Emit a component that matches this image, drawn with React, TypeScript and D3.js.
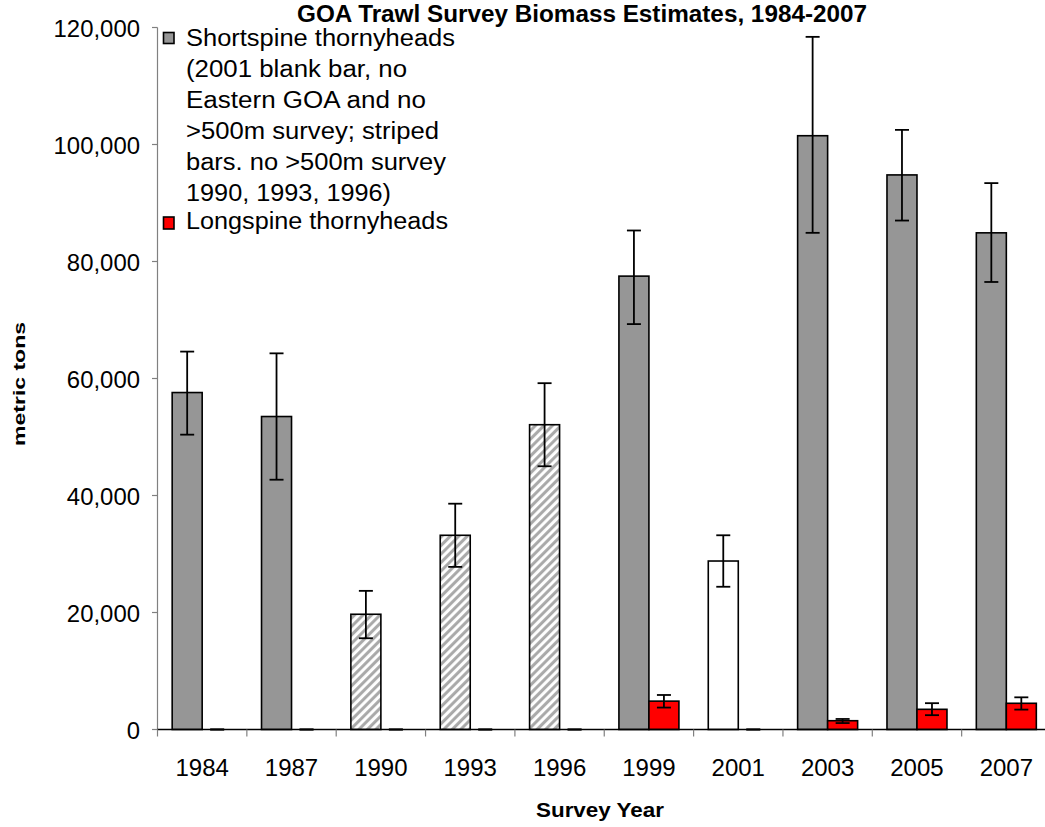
import React from "react";
import * as d3 from "d3";

const years = ["1984", "1987", "1990", "1993", "1996", "1999", "2001", "2003", "2005", "2007"];
// survey coverage: full survey, no >500m survey (striped), no Eastern GOA and no >500m (blank)
const surveyCoverage = ["full", "full", "shallow", "shallow", "shallow", "full", "partial", "full", "full", "full"];
const shortspine = [57600, 53500, 19700, 33200, 52100, 77500, 28800, 101500, 94800, 84900];
const shortspineLower = [50400, 42700, 15600, 27800, 45000, 69300, 24400, 84900, 87000, 76500];
const shortspineUpper = [64600, 64300, 23700, 38600, 59200, 85300, 33200, 118400, 102500, 93400];
const longspine = [0, 0, 0, 0, 0, 4850, 0, 1500, 3450, 4480];
const longspineLower = [0, 0, 0, 0, 0, 3750, 0, 1100, 2450, 3400];
const longspineUpper = [0, 0, 0, 0, 0, 5900, 0, 1800, 4500, 5500];
const yTicks = [0, 20000, 40000, 60000, 80000, 100000, 120000];
const yTickLabels = ["0", "20,000", "40,000", "60,000", "80,000", "100,000", "120,000"];
const legendShortLines = [
  "Shortspine thornyheads",
  "(2001 blank bar, no",
  "Eastern GOA and no",
  ">500m survey; striped",
  "bars. no >500m survey",
  "1990, 1993, 1996)",
];
const legendShortWidths = [269, 221, 240, 253, 260, 205];
const legendLong = "Longspine thornyheads";
const title = "GOA Trawl Survey Biomass Estimates, 1984-2007";
const xTitle = "Survey Year";
const yTitle = "metric tons";

const W = 1045;
const H = 827;
const FONT = "'Liberation Sans', Arial, Helvetica, sans-serif";
const GRAY = "#969696";
const RED = "#ff0000";

export default function App() {
  const x = d3.scaleBand<string>().domain(years).range([157.5, 1051]).paddingInner(0).paddingOuter(0);
  const y = d3.scaleLinear().domain([0, 120000]).range([729.5, 27.5]);
  const barW = 30;
  const capW = 14;
  const step = x.step();

  const fillFor = (cov: string) =>
    cov === "shallow" ? "url(#stripes)" : cov === "partial" ? "#ffffff" : GRAY;

  const errBar = (cx: number, lo: number, hi: number, key: string) => (
    <g key={key} stroke="#000" strokeWidth={1.8}>
      <line x1={cx} x2={cx} y1={y(lo)} y2={y(hi)} />
      <line x1={cx - capW / 2} x2={cx + capW / 2} y1={y(lo)} y2={y(lo)} />
      <line x1={cx - capW / 2} x2={cx + capW / 2} y1={y(hi)} y2={y(hi)} />
    </g>
  );

  const digitsLen = (s: string) => {
    let n = 0;
    for (const c of s) n += c === "," ? 0.5 : 1;
    return n * 13.3;
  };

  return (
    <svg
      width={W}
      height={H}
      style={{ position: "absolute", left: 0, top: 0, background: "#fff" }}
      fontFamily={FONT}
    >
      <defs>
        <pattern id="stripes" patternUnits="userSpaceOnUse" width={6} height={6} patternTransform="rotate(45)">
          <rect width={6} height={6} fill="#ffffff" />
          <line x1={1.6} x2={1.6} y1={0} y2={6} stroke="#a8a8a8" strokeWidth={3} />
        </pattern>
      </defs>
      <rect width={W} height={H} fill="#fff" />

      {/* Y axis */}
      <line x1={157.5} x2={157.5} y1={y(120000)} y2={y(0)} stroke="#808080" strokeWidth={1.2} />
      {yTicks.map((t, i) => (
        <g key={"yt" + t}>
          <line x1={152} x2={157.5} y1={y(t)} y2={y(t)} stroke="#808080" strokeWidth={1.2} />
          <text
            x={140}
            y={y(t) + 9}
            textAnchor="end"
            fontSize={24}
            fill="#000"
            textLength={digitsLen(yTickLabels[i])}
            lengthAdjust="spacingAndGlyphs"
          >
            {yTickLabels[i]}
          </text>
        </g>
      ))}

      {/* Bars */}
      {years.map((yr, i) => {
        const c = (x(yr) as number) + step / 2;
        return (
          <g key={"b" + yr}>
            <rect
              x={c - barW}
              y={y(shortspine[i])}
              width={barW}
              height={y(0) - y(shortspine[i])}
              fill={fillFor(surveyCoverage[i])}
              stroke="#000"
              strokeWidth={1.6}
            />
            {longspine[i] > 0 && (
              <rect
                x={c}
                y={y(longspine[i])}
                width={barW}
                height={y(0) - y(longspine[i])}
                fill={RED}
                stroke="#000"
                strokeWidth={1.6}
              />
            )}
          </g>
        );
      })}

      {/* X axis */}
      <line x1={157.5} x2={W} y1={y(0)} y2={y(0)} stroke="#000" strokeWidth={1.4} />
      {d3.range(years.length + 1).map((k) => {
        const tx = 157.5 + k * step;
        return <line key={"xt" + k} x1={tx} x2={tx} y1={y(0)} y2={y(0) + 7} stroke="#808080" strokeWidth={1.2} />;
      })}

      {/* Error bars */}
      {years.map((yr, i) => {
        const c = (x(yr) as number) + step / 2;
        return (
          <g key={"e" + yr}>
            {errBar(c - barW / 2, shortspineLower[i], shortspineUpper[i], "es" + yr)}
            {errBar(c + barW / 2, longspineLower[i], longspineUpper[i], "el" + yr)}
          </g>
        );
      })}

      {/* X tick labels */}
      {years.map((yr) => (
        <text key={"xl" + yr} x={(x(yr) as number) + step / 2} y={776} textAnchor="middle" fontSize={24} fill="#000">
          {yr}
        </text>
      ))}

      {/* Axis titles */}
      <text x={600} y={817} textAnchor="middle" fontSize={21} fontWeight="bold" fill="#000" textLength={128} lengthAdjust="spacingAndGlyphs">
        {xTitle}
      </text>
      <text
        transform="translate(25,384) rotate(-90)"
        textAnchor="middle"
        fontSize={17}
        fontWeight="bold"
        fill="#000"
        textLength={124}
        lengthAdjust="spacingAndGlyphs"
      >
        {yTitle}
      </text>

      {/* Title */}
      <text x={297} y={22} fontSize={23} fontWeight="bold" fill="#000" textLength={570} lengthAdjust="spacingAndGlyphs">
        {title}
      </text>

      {/* Legend */}
      <rect x={163.5} y={32.5} width={10.5} height={11} fill={GRAY} stroke="#000" strokeWidth={1.6} />
      {legendShortLines.map((ln, i) => (
        <text
          key={"lg" + i}
          x={186}
          y={46 + i * 31}
          fontSize={23.5}
          fill="#000"
          textLength={legendShortWidths[i]}
          lengthAdjust="spacingAndGlyphs"
        >
          {ln}
        </text>
      ))}
      <rect x={163.5} y={217} width={10.5} height={12} fill={RED} stroke="#000" strokeWidth={1.6} />
      <text x={186} y={229} fontSize={23.5} fill="#000" textLength={262} lengthAdjust="spacingAndGlyphs">
        {legendLong}
      </text>
    </svg>
  );
}
